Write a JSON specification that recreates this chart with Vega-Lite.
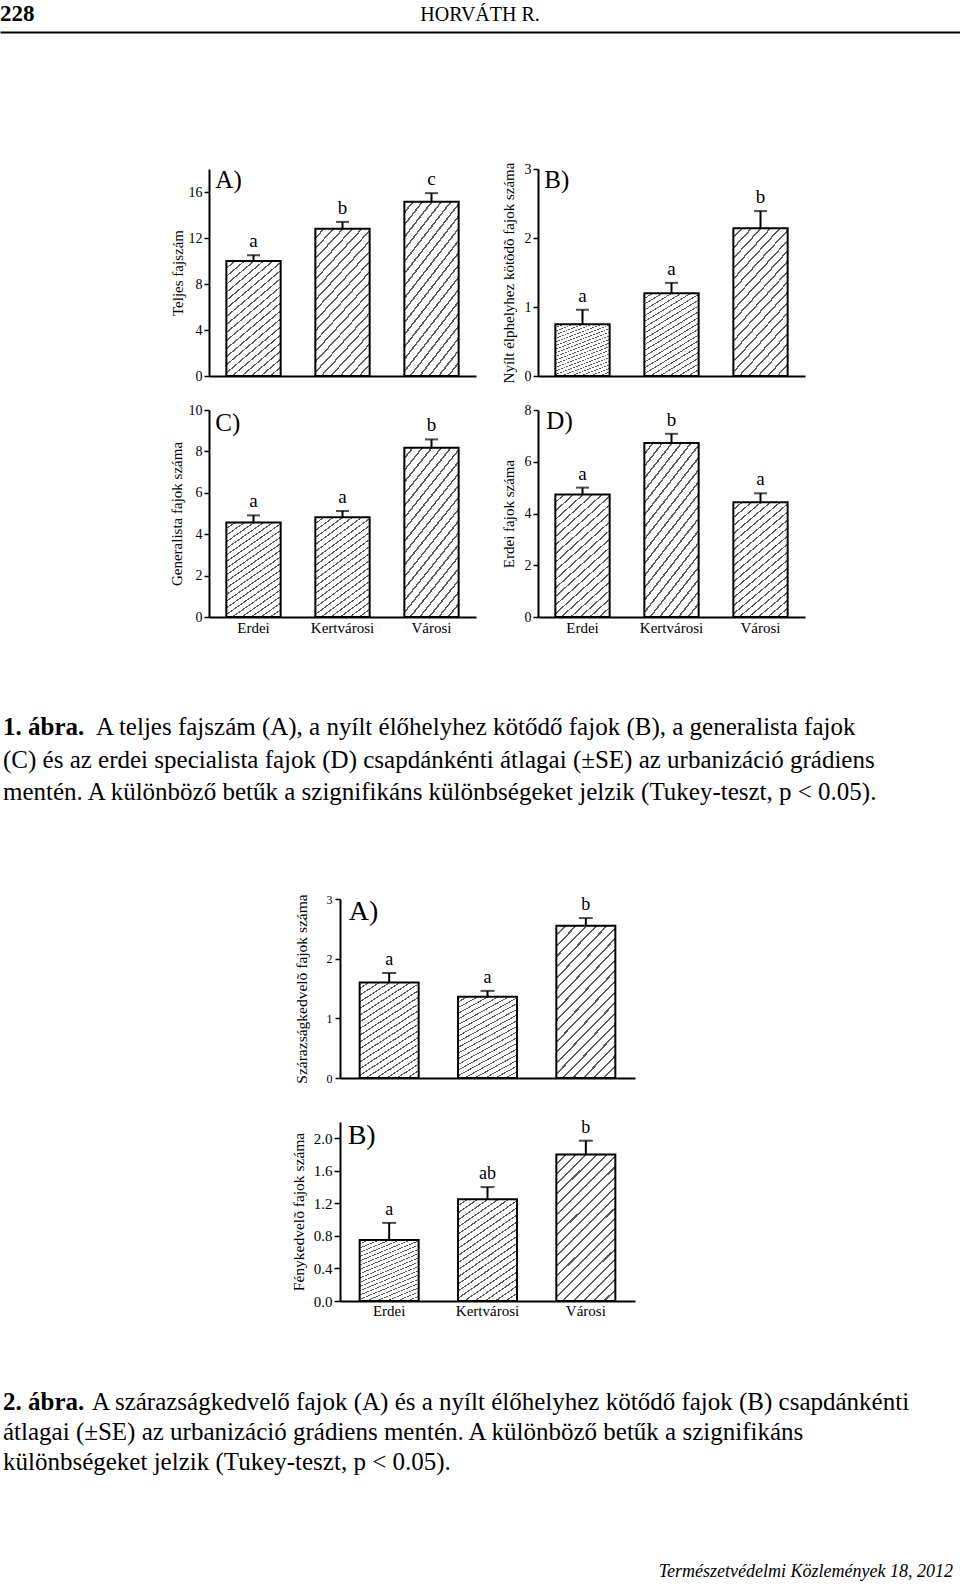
{
"$schema": "https://vega.github.io/schema/vega-lite/v6.json",
"padding": 0,
"background": "white",
"spacing": 0,
"config": {
  "font": "Liberation Serif",
  "view": {"stroke": null},
  "axis": {"grid": false, "domainColor": "black", "tickColor": "black", "labelColor": "black", "titleColor": "black", "titleFontWeight": "normal", "labelFont": "Liberation Serif", "titleFont": "Liberation Serif", "labelOverlap": false},
  "text": {"color": "black"},
  "bar": {"stroke": "black", "strokeWidth": 2, "fill": {"gradient": "linear", "x1": 0, "y1": 0, "x2": 0.483, "y2": 1.207, "stops": [
    {"offset": 0, "color": "white"},
    {"offset": 0.04, "color": "white"}, {"offset": 0.04, "color": "#5a5a5a"}, {"offset": 0.05, "color": "#5a5a5a"}, {"offset": 0.05, "color": "white"},
    {"offset": 0.09, "color": "white"}, {"offset": 0.09, "color": "#5a5a5a"}, {"offset": 0.10, "color": "#5a5a5a"}, {"offset": 0.10, "color": "white"},
    {"offset": 0.14, "color": "white"}, {"offset": 0.14, "color": "#5a5a5a"}, {"offset": 0.15, "color": "#5a5a5a"}, {"offset": 0.15, "color": "white"},
    {"offset": 0.19, "color": "white"}, {"offset": 0.19, "color": "#5a5a5a"}, {"offset": 0.20, "color": "#5a5a5a"}, {"offset": 0.20, "color": "white"},
    {"offset": 0.24, "color": "white"}, {"offset": 0.24, "color": "#5a5a5a"}, {"offset": 0.25, "color": "#5a5a5a"}, {"offset": 0.25, "color": "white"},
    {"offset": 0.29, "color": "white"}, {"offset": 0.29, "color": "#5a5a5a"}, {"offset": 0.30, "color": "#5a5a5a"}, {"offset": 0.30, "color": "white"},
    {"offset": 0.34, "color": "white"}, {"offset": 0.34, "color": "#5a5a5a"}, {"offset": 0.35, "color": "#5a5a5a"}, {"offset": 0.35, "color": "white"},
    {"offset": 0.39, "color": "white"}, {"offset": 0.39, "color": "#5a5a5a"}, {"offset": 0.40, "color": "#5a5a5a"}, {"offset": 0.40, "color": "white"},
    {"offset": 0.44, "color": "white"}, {"offset": 0.44, "color": "#5a5a5a"}, {"offset": 0.45, "color": "#5a5a5a"}, {"offset": 0.45, "color": "white"},
    {"offset": 0.49, "color": "white"}, {"offset": 0.49, "color": "#5a5a5a"}, {"offset": 0.50, "color": "#5a5a5a"}, {"offset": 0.50, "color": "white"},
    {"offset": 0.54, "color": "white"}, {"offset": 0.54, "color": "#5a5a5a"}, {"offset": 0.55, "color": "#5a5a5a"}, {"offset": 0.55, "color": "white"},
    {"offset": 0.59, "color": "white"}, {"offset": 0.59, "color": "#5a5a5a"}, {"offset": 0.60, "color": "#5a5a5a"}, {"offset": 0.60, "color": "white"},
    {"offset": 0.64, "color": "white"}, {"offset": 0.64, "color": "#5a5a5a"}, {"offset": 0.65, "color": "#5a5a5a"}, {"offset": 0.65, "color": "white"},
    {"offset": 0.69, "color": "white"}, {"offset": 0.69, "color": "#5a5a5a"}, {"offset": 0.70, "color": "#5a5a5a"}, {"offset": 0.70, "color": "white"},
    {"offset": 0.74, "color": "white"}, {"offset": 0.74, "color": "#5a5a5a"}, {"offset": 0.75, "color": "#5a5a5a"}, {"offset": 0.75, "color": "white"},
    {"offset": 0.79, "color": "white"}, {"offset": 0.79, "color": "#5a5a5a"}, {"offset": 0.80, "color": "#5a5a5a"}, {"offset": 0.80, "color": "white"},
    {"offset": 0.84, "color": "white"}, {"offset": 0.84, "color": "#5a5a5a"}, {"offset": 0.85, "color": "#5a5a5a"}, {"offset": 0.85, "color": "white"},
    {"offset": 0.89, "color": "white"}, {"offset": 0.89, "color": "#5a5a5a"}, {"offset": 0.90, "color": "#5a5a5a"}, {"offset": 0.90, "color": "white"},
    {"offset": 0.94, "color": "white"}, {"offset": 0.94, "color": "#5a5a5a"}, {"offset": 0.95, "color": "#5a5a5a"}, {"offset": 0.95, "color": "white"},
    {"offset": 0.99, "color": "white"}, {"offset": 0.99, "color": "#5a5a5a"}, {"offset": 1, "color": "#5a5a5a"}
  ]}}
},
"datasets": {
  "header": [{"slot": "left", "text": "228"}, {"slot": "center", "text": "HORVÁTH R."}],
  "p1A": [{"site": "Erdei", "mean": 10.0, "upper": 10.5, "letter": "a"}, {"site": "Kertvárosi", "mean": 12.8, "upper": 13.4, "letter": "b"}, {"site": "Városi", "mean": 15.15, "upper": 15.9, "letter": "c"}],
  "p1B": [{"site": "Erdei", "mean": 0.75, "upper": 0.96, "letter": "a"}, {"site": "Kertvárosi", "mean": 1.2, "upper": 1.35, "letter": "a"}, {"site": "Városi", "mean": 2.14, "upper": 2.39, "letter": "b"}],
  "p1C": [{"site": "Erdei", "mean": 4.56, "upper": 4.91, "letter": "a"}, {"site": "Kertvárosi", "mean": 4.82, "upper": 5.12, "letter": "a"}, {"site": "Városi", "mean": 8.18, "upper": 8.58, "letter": "b"}],
  "p1D": [{"site": "Erdei", "mean": 4.73, "upper": 5.0, "letter": "a"}, {"site": "Kertvárosi", "mean": 6.72, "upper": 7.08, "letter": "b"}, {"site": "Városi", "mean": 4.43, "upper": 4.78, "letter": "a"}],
  "p2A": [{"site": "Erdei", "mean": 1.6, "upper": 1.76, "letter": "a"}, {"site": "Kertvárosi", "mean": 1.36, "upper": 1.46, "letter": "a"}, {"site": "Városi", "mean": 2.55, "upper": 2.68, "letter": "b"}],
  "p2B": [{"site": "Erdei", "mean": 0.75, "upper": 0.96, "letter": "a"}, {"site": "Kertvárosi", "mean": 1.25, "upper": 1.4, "letter": "ab"}, {"site": "Városi", "mean": 1.8, "upper": 1.97, "letter": "b"}],
  "cap1": [
    {"line": 1, "bold": "1. ábra.", "text": "A teljes fajszám (A), a nyílt élőhelyhez kötődő fajok (B), a generalista fajok"},
    {"line": 2, "bold": "", "text": "(C) és az erdei specialista fajok (D) csapdánkénti átlagai (±SE) az urbanizáció grádiens"},
    {"line": 3, "bold": "", "text": "mentén. A különböző betűk a szignifikáns különbségeket jelzik (Tukey-teszt, p < 0.05)."}
  ],
  "cap2": [
    {"line": 1, "bold": "2. ábra.", "text": "A szárazságkedvelő fajok (A) és a nyílt élőhelyhez kötődő fajok (B) csapdánkénti"},
    {"line": 2, "bold": "", "text": "átlagai (±SE) az urbanizáció grádiens mentén. A különböző betűk a szignifikáns"},
    {"line": 3, "bold": "", "text": "különbségeket jelzik (Tukey-teszt, p < 0.05)."}
  ],
  "footer": [{"text": "Természetvédelmi Közlemények 18, 2012"}]
},
"vconcat": [
  {
    "width": 960, "height": 32,
    "data": {"name": "header"},
    "encoding": {"x": {"field": "slot", "type": "nominal", "scale": {"type": "point", "domain": ["left", "center", "right"], "padding": 0}, "axis": {"title": null, "labels": false, "ticks": false, "tickSize": 0, "domainWidth": 2, "orient": "bottom"}}},
    "layer": [
      {"transform": [{"filter": "datum.slot === 'left'"}], "mark": {"type": "text", "align": "left", "baseline": "alphabetic", "dy": 5, "fontSize": 23, "fontWeight": "bold"}, "encoding": {"text": {"field": "text"}}},
      {"transform": [{"filter": "datum.slot === 'center'"}], "mark": {"type": "text", "align": "center", "baseline": "alphabetic", "dy": 5, "fontSize": 20}, "encoding": {"text": {"field": "text"}}}
    ]
  },
  {"width": 10, "height": 130, "data": {"values": []}, "mark": "point"},
  {
    "spacing": 0,
    "hconcat": [
      {"width": 169, "height": 1, "data": {"values": []}, "mark": "point"},
      {
        "columns": 2,
        "spacing": {"row": 20, "column": 25},
        "concat": [
          {
            "width": 267, "height": 207, "data": {"name": "p1A"},
            "encoding": {"x": {"field": "site", "type": "nominal", "sort": ["Erdei", "Kertvárosi", "Városi"], "scale": {"paddingInner": 0.39, "paddingOuter": 0.195}, "axis": {"title": null, "labels": false, "ticks": false, "tickSize": 0, "domainWidth": 2}}},
            "layer": [
              {"mark": "bar", "encoding": {"y": {"field": "mean", "type": "quantitative", "scale": {"domain": [0, 18], "nice": false}, "axis": {"title": "Teljes fajszám", "values": [0, 4, 8, 12, 16], "tickCount": 10, "format": "d", "titleFontSize": 15, "titlePadding": 3, "labelFontSize": 14, "labelPadding": 2, "tickSize": 5, "tickWidth": 1.5, "domainWidth": 2}}}},
              {"mark": {"type": "rule", "color": "black", "strokeWidth": 2}, "encoding": {"y": {"field": "mean", "type": "quantitative"}, "y2": {"field": "upper"}}},
              {"mark": {"type": "tick", "color": "black", "size": 13, "thickness": 2}, "encoding": {"y": {"field": "upper", "type": "quantitative"}}},
              {"mark": {"type": "text", "fontSize": 19, "dy": -8, "baseline": "alphabetic"}, "encoding": {"y": {"field": "upper", "type": "quantitative"}, "text": {"field": "letter"}}},
              {"data": {"values": [{"panel": "A)"}]}, "mark": {"type": "text", "fontSize": 25, "align": "left", "baseline": "alphabetic", "dx": -11, "dy": 19}, "encoding": {"x": {"datum": "Erdei", "bandPosition": 0}, "y": {"datum": 18, "type": "quantitative"}, "text": {"field": "panel"}}}
            ]
          },
          {
            "width": 267, "height": 207, "data": {"name": "p1B"},
            "encoding": {"x": {"field": "site", "type": "nominal", "sort": ["Erdei", "Kertvárosi", "Városi"], "scale": {"paddingInner": 0.39, "paddingOuter": 0.195}, "axis": {"title": null, "labels": false, "ticks": false, "tickSize": 0, "domainWidth": 2}}},
            "layer": [
              {"mark": "bar", "encoding": {"y": {"field": "mean", "type": "quantitative", "scale": {"domain": [0, 3], "nice": false}, "axis": {"title": "Nyílt élphelyhez kötõdõ fajok száma", "values": [0, 1, 2, 3], "tickCount": 10, "format": "d", "titleFontSize": 15, "titlePadding": 8, "labelFontSize": 14, "labelPadding": 2, "tickSize": 5, "tickWidth": 1.5, "domainWidth": 2}}}},
              {"mark": {"type": "rule", "color": "black", "strokeWidth": 2}, "encoding": {"y": {"field": "mean", "type": "quantitative"}, "y2": {"field": "upper"}}},
              {"mark": {"type": "tick", "color": "black", "size": 13, "thickness": 2}, "encoding": {"y": {"field": "upper", "type": "quantitative"}}},
              {"mark": {"type": "text", "fontSize": 19, "dy": -8, "baseline": "alphabetic"}, "encoding": {"y": {"field": "upper", "type": "quantitative"}, "text": {"field": "letter"}}},
              {"data": {"values": [{"panel": "B)"}]}, "mark": {"type": "text", "fontSize": 25, "align": "left", "baseline": "alphabetic", "dx": -11, "dy": 19}, "encoding": {"x": {"datum": "Erdei", "bandPosition": 0}, "y": {"datum": 3, "type": "quantitative"}, "text": {"field": "panel"}}}
            ]
          },
          {
            "width": 267, "height": 207, "data": {"name": "p1C"},
            "encoding": {"x": {"field": "site", "type": "nominal", "sort": ["Erdei", "Kertvárosi", "Városi"], "scale": {"paddingInner": 0.39, "paddingOuter": 0.195}, "axis": {"title": null, "labelFontSize": 15, "labelAngle": 0, "labelPadding": 3.5, "ticks": false, "tickSize": 0, "domainWidth": 2}}},
            "layer": [
              {"mark": "bar", "encoding": {"y": {"field": "mean", "type": "quantitative", "scale": {"domain": [0, 10], "nice": false}, "axis": {"title": "Generalista fajok száma", "values": [0, 2, 4, 6, 8, 10], "tickCount": 10, "format": "d", "titleFontSize": 15, "titlePadding": 4, "labelFontSize": 14, "labelPadding": 2, "tickSize": 5, "tickWidth": 1.5, "domainWidth": 2}}}},
              {"mark": {"type": "rule", "color": "black", "strokeWidth": 2}, "encoding": {"y": {"field": "mean", "type": "quantitative"}, "y2": {"field": "upper"}}},
              {"mark": {"type": "tick", "color": "black", "size": 13, "thickness": 2}, "encoding": {"y": {"field": "upper", "type": "quantitative"}}},
              {"mark": {"type": "text", "fontSize": 19, "dy": -8, "baseline": "alphabetic"}, "encoding": {"y": {"field": "upper", "type": "quantitative"}, "text": {"field": "letter"}}},
              {"data": {"values": [{"panel": "C)"}]}, "mark": {"type": "text", "fontSize": 25, "align": "left", "baseline": "alphabetic", "dx": -11, "dy": 21}, "encoding": {"x": {"datum": "Erdei", "bandPosition": 0}, "y": {"datum": 10, "type": "quantitative"}, "text": {"field": "panel"}}}
            ]
          },
          {
            "width": 267, "height": 207, "data": {"name": "p1D"},
            "encoding": {"x": {"field": "site", "type": "nominal", "sort": ["Erdei", "Kertvárosi", "Városi"], "scale": {"paddingInner": 0.39, "paddingOuter": 0.195}, "axis": {"title": null, "labelFontSize": 15, "labelAngle": 0, "labelPadding": 3.5, "ticks": false, "tickSize": 0, "domainWidth": 2}}},
            "layer": [
              {"mark": "bar", "encoding": {"y": {"field": "mean", "type": "quantitative", "scale": {"domain": [0, 8], "nice": false}, "axis": {"title": "Erdei fajok száma", "values": [0, 2, 4, 6, 8], "tickCount": 10, "format": "d", "titleFontSize": 15, "titlePadding": 8, "labelFontSize": 14, "labelPadding": 2, "tickSize": 5, "tickWidth": 1.5, "domainWidth": 2}}}},
              {"mark": {"type": "rule", "color": "black", "strokeWidth": 2}, "encoding": {"y": {"field": "mean", "type": "quantitative"}, "y2": {"field": "upper"}}},
              {"mark": {"type": "tick", "color": "black", "size": 13, "thickness": 2}, "encoding": {"y": {"field": "upper", "type": "quantitative"}}},
              {"mark": {"type": "text", "fontSize": 19, "dy": -8, "baseline": "alphabetic"}, "encoding": {"y": {"field": "upper", "type": "quantitative"}, "text": {"field": "letter"}}},
              {"data": {"values": [{"panel": "D)"}]}, "mark": {"type": "text", "fontSize": 25, "align": "left", "baseline": "alphabetic", "dx": -9, "dy": 19}, "encoding": {"x": {"datum": "Erdei", "bandPosition": 0}, "y": {"datum": 8, "type": "quantitative"}, "text": {"field": "panel"}}}
            ]
          }
        ]
      }
    ]
  },
  {"width": 10, "height": 76.5, "data": {"values": []}, "mark": "point"},
  {
    "width": 960, "height": 109,
    "data": {"name": "cap1"},
    "encoding": {
      "x": {"datum": 0, "type": "quantitative", "scale": {"domain": [0, 1]}, "axis": null},
      "y": {"field": "line", "type": "ordinal", "scale": {"type": "point", "padding": 0.677}, "axis": null}
    },
    "layer": [
      {"transform": [{"filter": "datum.line === 1"}], "mark": {"type": "text", "align": "left", "baseline": "alphabetic", "fontSize": 25, "fontWeight": "bold", "dx": 3}, "encoding": {"text": {"field": "bold"}}},
      {"transform": [{"filter": "datum.line === 1"}], "mark": {"type": "text", "align": "left", "baseline": "alphabetic", "fontSize": 25, "dx": 96}, "encoding": {"text": {"field": "text"}}},
      {"transform": [{"filter": "datum.line > 1"}], "mark": {"type": "text", "align": "left", "baseline": "alphabetic", "fontSize": 25, "dx": 3}, "encoding": {"text": {"field": "text"}}}
    ]
  },
  {"width": 10, "height": 71, "data": {"values": []}, "mark": "point"},
  {
    "spacing": 0,
    "hconcat": [
      {"width": 291, "height": 1, "data": {"values": []}, "mark": "point"},
      {
        "columns": 1,
        "spacing": 34,
        "concat": [
          {
            "width": 295, "height": 179, "data": {"name": "p2A"},
            "encoding": {"x": {"field": "site", "type": "nominal", "sort": ["Erdei", "Kertvárosi", "Városi"], "scale": {"paddingInner": 0.4, "paddingOuter": 0.2}, "axis": {"title": null, "labels": false, "ticks": false, "tickSize": 0, "domainWidth": 2}}},
            "layer": [
              {"mark": "bar", "encoding": {"y": {"field": "mean", "type": "quantitative", "scale": {"domain": [0, 3], "nice": false}, "axis": {"title": "Szárazságkedvelõ fajok száma", "values": [0, 1, 2, 3], "tickCount": 10, "format": "d", "titleFontSize": 15.5, "titlePadding": 17, "labelFontSize": 12, "labelPadding": 3, "tickSize": 5, "tickWidth": 1.5, "domainWidth": 2}}}},
              {"mark": {"type": "rule", "color": "black", "strokeWidth": 2}, "encoding": {"y": {"field": "mean", "type": "quantitative"}, "y2": {"field": "upper"}}},
              {"mark": {"type": "tick", "color": "black", "size": 14, "thickness": 2}, "encoding": {"y": {"field": "upper", "type": "quantitative"}}},
              {"mark": {"type": "text", "fontSize": 18, "dy": -8, "baseline": "alphabetic"}, "encoding": {"y": {"field": "upper", "type": "quantitative"}, "text": {"field": "letter"}}},
              {"data": {"values": [{"panel": "A)"}]}, "mark": {"type": "text", "fontSize": 28, "align": "left", "baseline": "alphabetic", "dx": -11, "dy": 21}, "encoding": {"x": {"datum": "Erdei", "bandPosition": 0}, "y": {"datum": 3, "type": "quantitative"}, "text": {"field": "panel"}}}
            ]
          },
          {
            "width": 295, "height": 179, "data": {"name": "p2B"},
            "encoding": {"x": {"field": "site", "type": "nominal", "sort": ["Erdei", "Kertvárosi", "Városi"], "scale": {"paddingInner": 0.4, "paddingOuter": 0.2}, "axis": {"title": null, "labelFontSize": 15, "labelAngle": 0, "labelPadding": 2, "ticks": false, "tickSize": 0, "domainWidth": 2}}},
            "layer": [
              {"mark": "bar", "encoding": {"y": {"field": "mean", "type": "quantitative", "scale": {"domain": [0, 2.2], "nice": false}, "axis": {"title": "Fénykedvelõ fajok száma", "values": [0, 0.4, 0.8, 1.2, 1.6, 2.0], "tickCount": 10, "format": ".1f", "labelOverlap": false, "titleFontSize": 15.5, "titlePadding": 7, "labelFontSize": 15, "labelPadding": 2, "tickSize": 6, "tickWidth": 1.5, "domainWidth": 2}}}},
              {"mark": {"type": "rule", "color": "black", "strokeWidth": 2}, "encoding": {"y": {"field": "mean", "type": "quantitative"}, "y2": {"field": "upper"}}},
              {"mark": {"type": "tick", "color": "black", "size": 14, "thickness": 2}, "encoding": {"y": {"field": "upper", "type": "quantitative"}}},
              {"mark": {"type": "text", "fontSize": 18, "dy": -8, "baseline": "alphabetic"}, "encoding": {"y": {"field": "upper", "type": "quantitative"}, "text": {"field": "letter"}}},
              {"data": {"values": [{"panel": "B)"}]}, "mark": {"type": "text", "fontSize": 28, "align": "left", "baseline": "alphabetic", "dx": -12, "dy": 22}, "encoding": {"x": {"datum": "Erdei", "bandPosition": 0}, "y": {"datum": 2.2, "type": "quantitative"}, "text": {"field": "panel"}}}
            ]
          }
        ]
      }
    ]
  },
  {"width": 10, "height": 70, "data": {"values": []}, "mark": "point"},
  {
    "width": 960, "height": 104,
    "data": {"name": "cap2"},
    "encoding": {
      "x": {"datum": 0, "type": "quantitative", "scale": {"domain": [0, 1]}, "axis": null},
      "y": {"field": "line", "type": "ordinal", "scale": {"type": "point", "padding": 0.733}, "axis": null}
    },
    "layer": [
      {"transform": [{"filter": "datum.line === 1"}], "mark": {"type": "text", "align": "left", "baseline": "alphabetic", "fontSize": 25, "fontWeight": "bold", "dx": 3}, "encoding": {"text": {"field": "bold"}}},
      {"transform": [{"filter": "datum.line === 1"}], "mark": {"type": "text", "align": "left", "baseline": "alphabetic", "fontSize": 25, "dx": 92}, "encoding": {"text": {"field": "text"}}},
      {"transform": [{"filter": "datum.line > 1"}], "mark": {"type": "text", "align": "left", "baseline": "alphabetic", "fontSize": 25, "dx": 3}, "encoding": {"text": {"field": "text"}}}
    ]
  },
  {"width": 10, "height": 70, "data": {"values": []}, "mark": "point"},
  {
    "width": 960, "height": 30,
    "data": {"name": "footer"},
    "mark": {"type": "text", "align": "right", "baseline": "alphabetic", "fontSize": 18, "fontStyle": "italic", "dx": -7},
    "encoding": {"x": {"datum": 1, "type": "quantitative", "scale": {"domain": [0, 1]}, "axis": null}, "text": {"field": "text"}}
  }
]
}
